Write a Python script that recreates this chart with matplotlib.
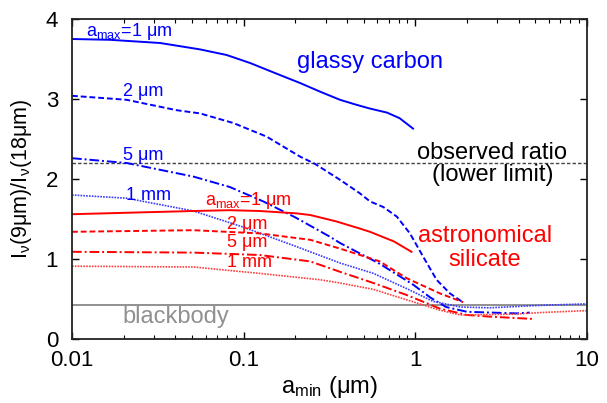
import numpy as np
import matplotlib.pyplot as plt
from matplotlib.ticker import LogLocator, NullFormatter, FixedLocator

plt.rcParams['font.family'] = ['Liberation Sans', 'DejaVu Sans']
plt.rcParams['mathtext.fontset'] = 'custom'
plt.rcParams['mathtext.rm'] = 'Liberation Sans'
plt.rcParams['mathtext.it'] = 'Liberation Sans:italic'

# glassy carbon, a_max = 1 um, 2 um, 5 um, 1 mm
gc_1um_x = [0.01, 0.0166, 0.0326, 0.0557, 0.0796, 0.109, 0.15, 0.213, 0.28, 0.364, 0.45, 0.545, 0.684, 0.81, 0.97]
gc_1um_y = [3.75, 3.74, 3.70, 3.62, 3.55, 3.45, 3.33, 3.20, 3.09, 2.99, 2.93, 2.88, 2.83, 2.76, 2.63]
gc_2um_x = [0.01, 0.0208, 0.0407, 0.0557, 0.087, 0.136, 0.213, 0.26, 0.364, 0.476, 0.544, 0.65, 0.78, 0.93, 1.11, 1.33, 1.59, 1.86]
gc_2um_y = [3.04, 2.99, 2.86, 2.82, 2.70, 2.53, 2.28, 2.19, 1.99, 1.82, 1.72, 1.65, 1.53, 1.32, 1.03, 0.74, 0.57, 0.47]
gc_5um_x = [0.01, 0.0208, 0.051, 0.083, 0.13, 0.2, 0.317, 0.364, 0.62, 0.97, 1.22, 1.51, 2.0, 3.9, 4.65]
gc_5um_y = [2.26, 2.20, 2.03, 1.90, 1.72, 1.52, 1.28, 1.20, 0.94, 0.68, 0.52, 0.40, 0.34, 0.32, 0.33]
gc_1mm_x = [0.01, 0.0208, 0.051, 0.099, 0.2, 0.364, 0.57, 0.89, 1.27, 1.83, 2.7, 5.3, 10]
gc_1mm_y = [1.80, 1.76, 1.60, 1.40, 1.16, 0.95, 0.82, 0.63, 0.47, 0.40, 0.39, 0.42, 0.44]

# astronomical silicate
as_1um_x = [0.01, 0.051, 0.083, 0.124, 0.204, 0.244, 0.346, 0.476, 0.544, 0.75, 0.95]
as_1um_y = [1.56, 1.60, 1.61, 1.60, 1.57, 1.55, 1.47, 1.38, 1.34, 1.22, 1.09]
as_2um_x = [0.01, 0.051, 0.124, 0.244, 0.364, 0.476, 0.62, 0.89, 1.39, 1.9]
as_2um_y = [1.34, 1.36, 1.32, 1.24, 1.13, 1.05, 0.97, 0.76, 0.57, 0.46]
as_5um_x = [0.01, 0.051, 0.124, 0.244, 0.364, 0.57, 0.89, 1.39, 2.0, 2.7, 4.9]
as_5um_y = [1.09, 1.08, 1.05, 0.97, 0.84, 0.70, 0.55, 0.38, 0.30, 0.28, 0.25]
as_1mm_x = [0.01, 0.051, 0.124, 0.28, 0.364, 0.57, 0.89, 1.39, 1.83, 3.7, 5.3, 10]
as_1mm_y = [0.91, 0.90, 0.82, 0.74, 0.70, 0.62, 0.49, 0.36, 0.30, 0.31, 0.33, 0.355]

observed_ratio = 2.2
blackbody_ratio = 0.43

dashed = (0, (3, 1.5))
dashdot = (0, (5, 1.5, 1, 1.5))
dotted = (0, (1, 0.7))

fig = plt.figure(figsize=(6.07, 4.03), dpi=100)
ax = fig.add_axes([72/607, 1-339/403, 515/607, 320/403])

ax.axhline(observed_ratio, color='#444444', lw=1.0, ls=(0, (2.5, 1.5)))
ax.axhline(blackbody_ratio, color='#888888', lw=1.3)

ax.plot(gc_1um_x, gc_1um_y, color='blue', lw=1.4)
ax.plot(gc_2um_x, gc_2um_y, color='blue', lw=1.4, ls=dashed)
ax.plot(gc_5um_x, gc_5um_y, color='blue', lw=1.4, ls=dashdot)
ax.plot(gc_1mm_x, gc_1mm_y, color='#3c3cff', lw=1.2, ls=dotted)

ax.plot(as_1um_x, as_1um_y, color='red', lw=1.4)
ax.plot(as_2um_x, as_2um_y, color='red', lw=1.4, ls=dashed)
ax.plot(as_5um_x, as_5um_y, color='red', lw=1.4, ls=dashdot)
ax.plot(as_1mm_x, as_1mm_y, color='#ff4040', lw=1.2, ls=dotted)

ax.set_xscale('log')
ax.set_xlim(0.01, 10)
ax.set_ylim(0, 4)
ax.xaxis.set_major_locator(FixedLocator([0.01, 0.1, 1, 10]))
ax.set_xticklabels(['0.01', '0.1', '1', '10'])
ax.xaxis.set_minor_locator(LogLocator(base=10, subs=np.arange(2, 10)))
ax.xaxis.set_minor_formatter(NullFormatter())
ax.set_yticks([0, 1, 2, 3, 4])

ax.tick_params(which='both', direction='in', top=True, right=True, labelsize=16)
ax.tick_params(which='major', length=5, width=1)
ax.tick_params(which='minor', length=3, width=0.8)
ax.tick_params(axis='x', pad=8)
ax.tick_params(axis='y', pad=10)
for s in ax.spines.values():
    s.set_linewidth(1.3)
    s.set_color('#222222')

ax.set_xlabel('a$_\\mathrm{min}$ (μm)', fontsize=17, labelpad=2)
ax.set_ylabel('I$_\\mathrm{\\nu}$(9μm)/I$_\\mathrm{\\nu}$(18μm)', fontsize=15.5, labelpad=8)

# curve labels
ax.text(0.012, 3.85, 'a$_\\mathrm{max}$=1 μm', color='blue', fontsize=13, va='center')
ax.text(0.0198, 3.09, '2 μm', color='blue', fontsize=13, va='center')
ax.text(0.0198, 2.29, '5 μm', color='blue', fontsize=13, va='center')
ax.text(0.0205, 1.79, '1 mm', color='blue', fontsize=13, va='center')
ax.text(0.0595, 1.73, 'a$_\\mathrm{max}$=1 μm', color='red', fontsize=13, va='center')
ax.text(0.0796, 1.43, '2 μm', color='red', fontsize=13, va='center')
ax.text(0.0796, 1.20, '5 μm', color='red', fontsize=13, va='center')
ax.text(0.0796, 0.96, '1 mm', color='red', fontsize=13, va='center')

ax.text(0.2035, 3.46, 'glassy carbon', color='blue', fontsize=17, va='center')
ax.text(2.81, 2.33, 'observed ratio', color='black', fontsize=17, va='center', ha='center')
ax.text(2.81, 2.05, '(lower limit)', color='black', fontsize=17, va='center', ha='center')
ax.text(2.55, 1.29, 'astronomical', color='red', fontsize=17, va='center', ha='center')
ax.text(2.55, 0.99, 'silicate', color='red', fontsize=17, va='center', ha='center')
ax.text(0.0198, 0.27, 'blackbody', color='#909090', fontsize=17, va='center')

fig.savefig('out.png', dpi=100)
